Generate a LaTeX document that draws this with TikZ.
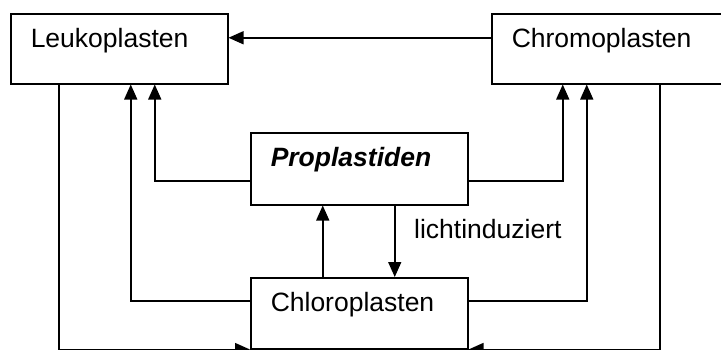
\documentclass[tikz,border=0pt]{standalone}
\usepackage{fontspec}
\setmainfont{Liberation Sans}
\usetikzlibrary{arrows.meta}

\begin{document}
\begin{tikzpicture}[x=1pt,y=-1pt,
        box/.style={draw, line width=1.5pt, anchor=north west, inner xsep=20pt, inner ysep=0pt,
                text height=34pt, align=left, font=\fontsize{26.5}{30}\selectfont},
        pfeil/.style={-{Triangle[length=15pt,width=13pt]}, line width=1.5pt}]
        \useasboundingbox (0,0) rectangle (721,349);
        \node(leuko)[box, text width=177pt, text depth=36pt] at (10,13) {Leukoplasten};
        \node(chromo)[box, text width=194pt, text depth=36pt] at (491,13) {Chromoplasten};
        \node(pro)[box, text width=177pt, text depth=38pt] at (250,132) {\bfseries\itshape Proplastiden};
        \node(chloro)[box, text width=177pt, text depth=37pt] at (250,277) {Chloroplasten};
        \node(licht)[anchor=base west, inner sep=0pt, font=\fontsize{26.5}{30}\selectfont] at (414,238) {lichtinduziert};
        \draw[pfeil]([yshift=11pt]chromo.west)--([yshift=11pt]leuko.east);
        \draw[pfeil]([yshift=-12pt]pro.west)-|([xshift=35.5pt]leuko.south);
        \draw[pfeil]([yshift=12.5pt]chloro.west)-|([xshift=11.5pt]leuko.south);
        \draw[pfeil]([xshift=-60.5pt]leuko.south)|-(chloro.south west);
        \draw[pfeil]([yshift=-12pt]pro.east)-|([xshift=-46pt]chromo.south);
        \draw[pfeil]([yshift=12.5pt]chloro.east)-|([xshift=-22pt]chromo.south);
        \draw[pfeil]([xshift=51pt]chromo.south)|-(chloro.south east);
        \draw[pfeil]([xshift=-36.5pt]chloro.north)--([xshift=-36.5pt]pro.south);
        \draw[pfeil]([xshift=35.5pt]pro.south)--([xshift=35.5pt]chloro.north);
        \end{tikzpicture}
\end{document}
